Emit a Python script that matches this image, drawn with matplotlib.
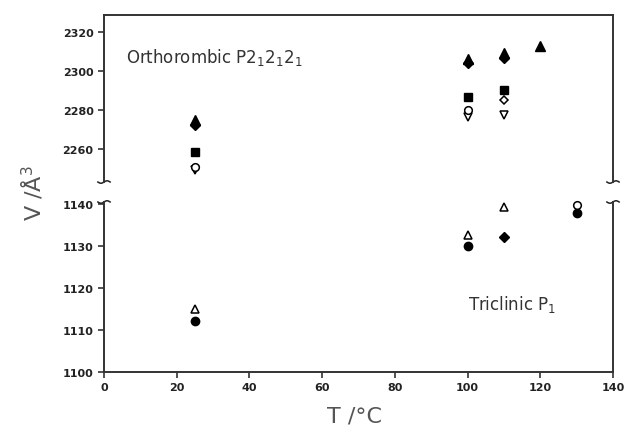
import numpy as np
import matplotlib
matplotlib.use('Agg')
import matplotlib.pyplot as plt

plt.rcParams['mathtext.default'] = 'regular'

# data (T in degC, V in A^3)
# orthorhombic cell (upper panel)
tri_up_T = [25, 100, 110, 120]
tri_up_V = [2275.0, 2306.0, 2309.0, 2313.0]
dia_T = [25, 100, 110]
dia_V = [2272.5, 2304.0, 2306.5]
sq_T = [25, 100, 110]
sq_V = [2258.6, 2286.5, 2290.3]
circ_T = [25, 100]
circ_V = [2250.8, 2279.8]
tri_dn_T = [25, 100, 110]
tri_dn_V = [2249.0, 2276.5, 2277.5]
odia_T = [110]
odia_V = [2285.0]

# triclinic cell (lower panel)
otri_T = [25, 100, 110]
otri_V = [1115.0, 1132.7, 1139.3]
fcirc_T = [25, 100, 130]
fcirc_V = [1112.2, 1130.1, 1137.9]
fdia_T = [110]
fdia_V = [1132.1]
ocirc_T = [130]
ocirc_V = [1139.7]

up_ticks = [2260, 2280, 2300, 2320]
lo_ticks = [1100, 1110, 1120, 1130, 1140]
x_ticks = [0, 20, 40, 60, 80, 100, 120, 140]

fig = plt.figure(figsize=(6.25, 4.39), dpi=100)
L, W = 0.1664, 0.8144
ax_up = fig.add_axes([L, 0.5831, W, 0.3805])
ax_lo = fig.add_axes([L, 0.1503, W, 0.3873])

ms = 6
def filled(ax, T, V, m, s=ms):
    ax.plot(T, V, m, ls='none', color='black', markersize=s, clip_on=False)

def hollow(ax, T, V, m, s=ms):
    ax.plot(T, V, m, ls='none', mfc='white', mec='black', mew=1.1,
            markersize=s, clip_on=False)

hollow(ax_up, tri_dn_T, tri_dn_V, 'v')
hollow(ax_up, circ_T, circ_V, 'o', 5.5)
hollow(ax_up, odia_T, odia_V, 'D', 4.5)
filled(ax_up, sq_T, sq_V, 's', 5.5)
filled(ax_up, dia_T, dia_V, 'D', 5)
filled(ax_up, tri_up_T, tri_up_V, '^', 6.5)

hollow(ax_lo, otri_T, otri_V, '^')
filled(ax_lo, fcirc_T, fcirc_V, 'o')
filled(ax_lo, fdia_T, fdia_V, 'D', 5)
hollow(ax_lo, ocirc_T, ocirc_V, 'o', 5.5)

ax_up.set_xlim(0, 140)
ax_lo.set_xlim(0, 140)
ax_up.set_ylim(2243, 2328.7)
ax_lo.set_ylim(1100, 1140.5)

tick_font = dict(fontsize=8, fontweight='bold', family='DejaVu Sans Condensed')
for ax in (ax_up, ax_lo):
    for s in ax.spines.values():
        s.set_linewidth(1.4)
        s.set_color('#333333')
    ax.tick_params(direction='out', length=4, width=1.1, colors='#222222',
                   right=False, top=False)

ax_up.spines['bottom'].set_visible(False)
ax_lo.spines['top'].set_visible(False)
ax_up.set_xticks([])
ax_up.set_yticks(up_ticks)
ax_up.set_yticklabels([str(t) for t in up_ticks], **tick_font)
ax_lo.set_yticks(lo_ticks)
ax_lo.set_yticklabels([str(t) for t in lo_ticks], **tick_font)
ax_lo.set_xticks(x_ticks)
ax_lo.set_xticklabels([str(t) for t in x_ticks], **tick_font)

# break marks on both sides
t = np.linspace(0, 1, 30)
bx = 0.012 * (t - 0.5) * 2
by = 0.012 * np.sin(np.pi * (t - 0.5) * 2)
for xe in (0.0, 1.0):
    ax_up.plot(xe + bx, by * 0.6, color='#222222', lw=1.1,
               transform=ax_up.transAxes, clip_on=False)
    ax_lo.plot(xe + bx, 1 + by * 0.6, color='#222222', lw=1.1,
               transform=ax_lo.transAxes, clip_on=False)

ax_up.text(0.043, 0.72, 'Orthorombic P2$_1$2$_1$2$_1$', transform=ax_up.transAxes,
           fontsize=12, color='#333333')
ax_lo.text(0.715, 0.37, 'Triclinic P$_1$', transform=ax_lo.transAxes,
           fontsize=12, color='#333333')

fig.text(0.052, 0.56, 'V /Å$^3$', rotation=90, fontsize=16, color='#555555',
         ha='center', va='center')
fig.text(0.567, 0.052, 'T /°C', fontsize=16, color='#555555',
         ha='center', va='center')

fig.savefig('out.png', dpi=100)
